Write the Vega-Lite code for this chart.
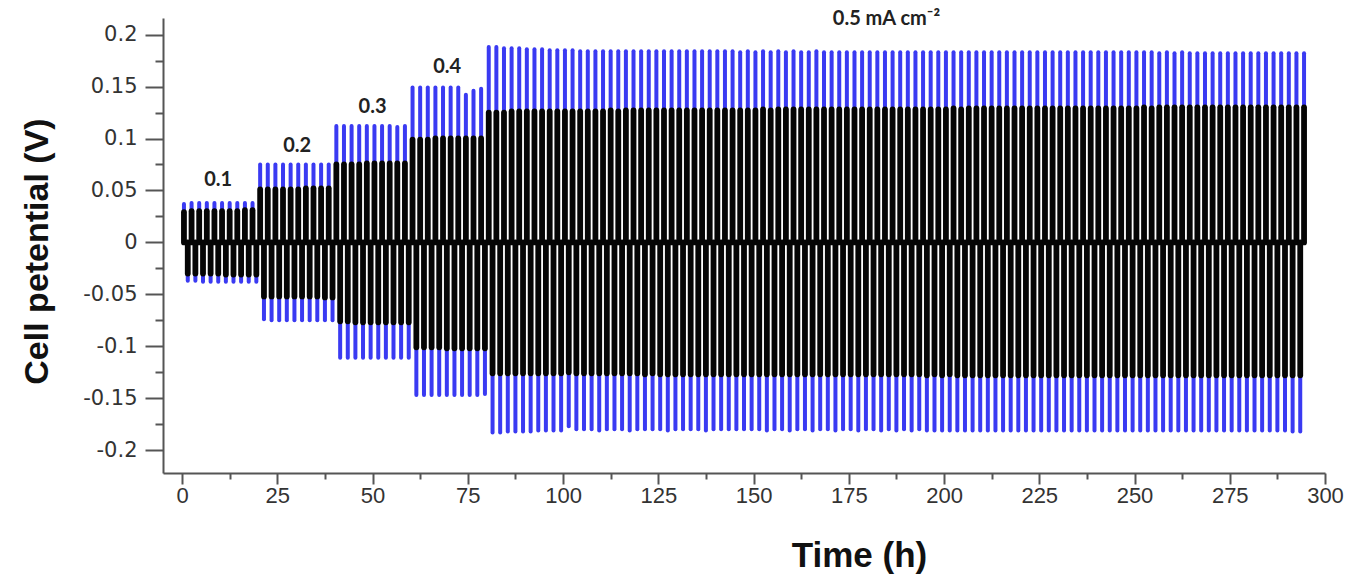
{
"$schema": "https://vega.github.io/schema/vega-lite/v6.json",
"width": 1162,
"height": 455,
"autosize": "none",
"padding": {"left": 163, "top": 18, "right": 47, "bottom": 108},
"background": "white",
"config": {"view": {"stroke": null}, "axis": {"grid": false}},
"datasets": {
"cycles": [
{"t":0.5,"b":0.037,"k":0.029},{"t":1.5,"b":-0.037,"k":-0.03},{"t":2.5,"b":0.038,"k":0.03},{"t":3.5,"b":-0.037,"k":-0.03},
{"t":4.5,"b":0.038,"k":0.03},{"t":5.5,"b":-0.038,"k":-0.03},{"t":6.5,"b":0.038,"k":0.03},{"t":7.5,"b":-0.038,"k":-0.03},
{"t":8.5,"b":0.038,"k":0.03},{"t":9.5,"b":-0.038,"k":-0.03},{"t":10.5,"b":0.038,"k":0.03},{"t":11.5,"b":-0.038,"k":-0.031},
{"t":12.5,"b":0.038,"k":0.03},{"t":13.5,"b":-0.038,"k":-0.031},{"t":14.5,"b":0.038,"k":0.03},{"t":15.5,"b":-0.038,"k":-0.031},
{"t":16.5,"b":0.038,"k":0.031},{"t":17.5,"b":-0.038,"k":-0.031},{"t":18.5,"b":0.038,"k":0.031},{"t":19.5,"b":-0.038,"k":-0.031},
{"t":20.5,"b":0.075,"k":0.051},{"t":21.5,"b":-0.074,"k":-0.052},{"t":22.5,"b":0.075,"k":0.051},{"t":23.5,"b":-0.075,"k":-0.052},
{"t":24.5,"b":0.075,"k":0.051},{"t":25.5,"b":-0.075,"k":-0.052},{"t":26.5,"b":0.075,"k":0.051},{"t":27.5,"b":-0.075,"k":-0.052},
{"t":28.5,"b":0.075,"k":0.051},{"t":29.5,"b":-0.075,"k":-0.052},{"t":30.5,"b":0.075,"k":0.051},{"t":31.5,"b":-0.075,"k":-0.052},
{"t":32.5,"b":0.075,"k":0.052},{"t":33.5,"b":-0.075,"k":-0.052},{"t":34.5,"b":0.075,"k":0.052},{"t":35.5,"b":-0.075,"k":-0.052},
{"t":36.5,"b":0.075,"k":0.052},{"t":37.5,"b":-0.075,"k":-0.053},{"t":38.5,"b":0.075,"k":0.052},{"t":39.5,"b":-0.075,"k":-0.053},
{"t":40.5,"b":0.112,"k":0.075},{"t":41.5,"b":-0.111,"k":-0.076},{"t":42.5,"b":0.112,"k":0.075},{"t":43.5,"b":-0.111,"k":-0.076},
{"t":44.5,"b":0.112,"k":0.075},{"t":45.5,"b":-0.111,"k":-0.077},{"t":46.5,"b":0.112,"k":0.075},{"t":47.5,"b":-0.111,"k":-0.077},
{"t":48.5,"b":0.112,"k":0.076},{"t":49.5,"b":-0.111,"k":-0.077},{"t":50.5,"b":0.112,"k":0.076},{"t":51.5,"b":-0.111,"k":-0.077},
{"t":52.5,"b":0.112,"k":0.076},{"t":53.5,"b":-0.111,"k":-0.077},{"t":54.5,"b":0.112,"k":0.076},{"t":55.5,"b":-0.111,"k":-0.077},
{"t":56.5,"b":0.111,"k":0.076},{"t":57.5,"b":-0.111,"k":-0.077},{"t":58.5,"b":0.112,"k":0.076},{"t":59.5,"b":-0.111,"k":-0.077},
{"t":60.5,"b":0.149,"k":0.099},{"t":61.5,"b":-0.147,"k":-0.101},{"t":62.5,"b":0.149,"k":0.099},{"t":63.5,"b":-0.147,"k":-0.101},
{"t":64.5,"b":0.149,"k":0.099},{"t":65.5,"b":-0.147,"k":-0.101},{"t":66.5,"b":0.149,"k":0.1},{"t":67.5,"b":-0.147,"k":-0.101},
{"t":68.5,"b":0.149,"k":0.1},{"t":69.5,"b":-0.147,"k":-0.102},{"t":70.5,"b":0.149,"k":0.1},{"t":71.5,"b":-0.147,"k":-0.102},
{"t":72.5,"b":0.149,"k":0.1},{"t":73.5,"b":-0.147,"k":-0.102},{"t":74.5,"b":0.142,"k":0.1},{"t":75.5,"b":-0.147,"k":-0.102},
{"t":76.5,"b":0.146,"k":0.1},{"t":77.5,"b":-0.147,"k":-0.102},{"t":78.5,"b":0.148,"k":0.1},{"t":79.5,"b":-0.146,"k":-0.102},
{"t":80.5,"b":0.188,"k":0.125},{"t":81.5,"b":-0.183,"k":-0.126},{"t":82.5,"b":0.188,"k":0.125},{"t":83.5,"b":-0.183,"k":-0.126},
{"t":84.5,"b":0.187,"k":0.125},{"t":85.5,"b":-0.182,"k":-0.126},{"t":86.5,"b":0.187,"k":0.126},{"t":87.5,"b":-0.182,"k":-0.126},
{"t":88.5,"b":0.187,"k":0.126},{"t":89.5,"b":-0.182,"k":-0.126},{"t":90.5,"b":0.186,"k":0.126},{"t":91.5,"b":-0.182,"k":-0.126},
{"t":92.5,"b":0.186,"k":0.126},{"t":93.5,"b":-0.181,"k":-0.126},{"t":94.5,"b":0.186,"k":0.126},{"t":95.5,"b":-0.181,"k":-0.126},
{"t":96.5,"b":0.185,"k":0.126},{"t":97.5,"b":-0.181,"k":-0.126},{"t":98.5,"b":0.185,"k":0.126},{"t":99.5,"b":-0.181,"k":-0.126},
{"t":100.5,"b":0.185,"k":0.126},{"t":101.5,"b":-0.177,"k":-0.125},{"t":102.5,"b":0.185,"k":0.126},{"t":103.5,"b":-0.18,"k":-0.126},
{"t":104.5,"b":0.184,"k":0.126},{"t":105.5,"b":-0.18,"k":-0.126},{"t":106.5,"b":0.184,"k":0.126},{"t":107.5,"b":-0.18,"k":-0.126},
{"t":108.5,"b":0.184,"k":0.126},{"t":109.5,"b":-0.181,"k":-0.126},{"t":110.5,"b":0.184,"k":0.126},{"t":111.5,"b":-0.18,"k":-0.126},
{"t":112.5,"b":0.184,"k":0.127},{"t":113.5,"b":-0.18,"k":-0.126},{"t":114.5,"b":0.184,"k":0.126},{"t":115.5,"b":-0.18,"k":-0.126},
{"t":116.5,"b":0.184,"k":0.127},{"t":117.5,"b":-0.181,"k":-0.126},{"t":118.5,"b":0.184,"k":0.127},{"t":119.5,"b":-0.18,"k":-0.126},
{"t":120.5,"b":0.184,"k":0.127},{"t":121.5,"b":-0.18,"k":-0.127},{"t":122.5,"b":0.184,"k":0.127},{"t":123.5,"b":-0.18,"k":-0.126},
{"t":124.5,"b":0.184,"k":0.127},{"t":125.5,"b":-0.18,"k":-0.127},{"t":126.5,"b":0.184,"k":0.127},{"t":127.5,"b":-0.181,"k":-0.127},
{"t":128.5,"b":0.184,"k":0.127},{"t":129.5,"b":-0.18,"k":-0.127},{"t":130.5,"b":0.184,"k":0.127},{"t":131.5,"b":-0.18,"k":-0.127},
{"t":132.5,"b":0.184,"k":0.127},{"t":133.5,"b":-0.18,"k":-0.127},{"t":134.5,"b":0.184,"k":0.127},{"t":135.5,"b":-0.18,"k":-0.127},
{"t":136.5,"b":0.184,"k":0.127},{"t":137.5,"b":-0.181,"k":-0.127},{"t":138.5,"b":0.184,"k":0.127},{"t":139.5,"b":-0.18,"k":-0.127},
{"t":140.5,"b":0.184,"k":0.127},{"t":141.5,"b":-0.18,"k":-0.127},{"t":142.5,"b":0.184,"k":0.127},{"t":143.5,"b":-0.18,"k":-0.127},
{"t":144.5,"b":0.184,"k":0.127},{"t":145.5,"b":-0.18,"k":-0.127},{"t":146.5,"b":0.183,"k":0.127},{"t":147.5,"b":-0.18,"k":-0.127},
{"t":148.5,"b":0.184,"k":0.127},{"t":149.5,"b":-0.18,"k":-0.127},{"t":150.5,"b":0.183,"k":0.127},{"t":151.5,"b":-0.18,"k":-0.127},
{"t":152.5,"b":0.184,"k":0.128},{"t":153.5,"b":-0.181,"k":-0.127},{"t":154.5,"b":0.183,"k":0.127},{"t":155.5,"b":-0.18,"k":-0.127},
{"t":156.5,"b":0.184,"k":0.128},{"t":157.5,"b":-0.18,"k":-0.127},{"t":158.5,"b":0.183,"k":0.128},{"t":159.5,"b":-0.181,"k":-0.127},
{"t":160.5,"b":0.184,"k":0.128},{"t":161.5,"b":-0.18,"k":-0.127},{"t":162.5,"b":0.183,"k":0.128},{"t":163.5,"b":-0.18,"k":-0.127},
{"t":164.5,"b":0.183,"k":0.128},{"t":165.5,"b":-0.181,"k":-0.127},{"t":166.5,"b":0.184,"k":0.128},{"t":167.5,"b":-0.18,"k":-0.127},
{"t":168.5,"b":0.183,"k":0.128},{"t":169.5,"b":-0.18,"k":-0.127},{"t":170.5,"b":0.183,"k":0.128},{"t":171.5,"b":-0.181,"k":-0.127},
{"t":172.5,"b":0.183,"k":0.128},{"t":173.5,"b":-0.18,"k":-0.127},{"t":174.5,"b":0.183,"k":0.128},{"t":175.5,"b":-0.18,"k":-0.127},
{"t":176.5,"b":0.183,"k":0.128},{"t":177.5,"b":-0.181,"k":-0.127},{"t":178.5,"b":0.183,"k":0.128},{"t":179.5,"b":-0.18,"k":-0.127},
{"t":180.5,"b":0.183,"k":0.128},{"t":181.5,"b":-0.18,"k":-0.127},{"t":182.5,"b":0.183,"k":0.128},{"t":183.5,"b":-0.181,"k":-0.127},
{"t":184.5,"b":0.183,"k":0.128},{"t":185.5,"b":-0.18,"k":-0.127},{"t":186.5,"b":0.183,"k":0.128},{"t":187.5,"b":-0.181,"k":-0.127},
{"t":188.5,"b":0.183,"k":0.128},{"t":189.5,"b":-0.18,"k":-0.127},{"t":190.5,"b":0.183,"k":0.128},{"t":191.5,"b":-0.181,"k":-0.127},
{"t":192.5,"b":0.183,"k":0.128},{"t":193.5,"b":-0.18,"k":-0.127},{"t":194.5,"b":0.183,"k":0.128},{"t":195.5,"b":-0.181,"k":-0.128},
{"t":196.5,"b":0.183,"k":0.128},{"t":197.5,"b":-0.181,"k":-0.127},{"t":198.5,"b":0.183,"k":0.128},{"t":199.5,"b":-0.181,"k":-0.128},
{"t":200.5,"b":0.183,"k":0.128},{"t":201.5,"b":-0.181,"k":-0.127},{"t":202.5,"b":0.183,"k":0.129},{"t":203.5,"b":-0.181,"k":-0.128},
{"t":204.5,"b":0.183,"k":0.128},{"t":205.5,"b":-0.181,"k":-0.128},{"t":206.5,"b":0.183,"k":0.129},{"t":207.5,"b":-0.181,"k":-0.128},
{"t":208.5,"b":0.183,"k":0.129},{"t":209.5,"b":-0.181,"k":-0.128},{"t":210.5,"b":0.183,"k":0.129},{"t":211.5,"b":-0.181,"k":-0.128},
{"t":212.5,"b":0.183,"k":0.129},{"t":213.5,"b":-0.181,"k":-0.128},{"t":214.5,"b":0.183,"k":0.129},{"t":215.5,"b":-0.181,"k":-0.128},
{"t":216.5,"b":0.183,"k":0.129},{"t":217.5,"b":-0.181,"k":-0.128},{"t":218.5,"b":0.183,"k":0.129},{"t":219.5,"b":-0.181,"k":-0.128},
{"t":220.5,"b":0.183,"k":0.129},{"t":221.5,"b":-0.181,"k":-0.128},{"t":222.5,"b":0.183,"k":0.129},{"t":223.5,"b":-0.181,"k":-0.128},
{"t":224.5,"b":0.183,"k":0.129},{"t":225.5,"b":-0.181,"k":-0.128},{"t":226.5,"b":0.183,"k":0.129},{"t":227.5,"b":-0.181,"k":-0.128},
{"t":228.5,"b":0.183,"k":0.129},{"t":229.5,"b":-0.181,"k":-0.128},{"t":230.5,"b":0.183,"k":0.129},{"t":231.5,"b":-0.181,"k":-0.128},
{"t":232.5,"b":0.183,"k":0.129},{"t":233.5,"b":-0.181,"k":-0.128},{"t":234.5,"b":0.183,"k":0.129},{"t":235.5,"b":-0.181,"k":-0.128},
{"t":236.5,"b":0.183,"k":0.129},{"t":237.5,"b":-0.181,"k":-0.128},{"t":238.5,"b":0.183,"k":0.129},{"t":239.5,"b":-0.181,"k":-0.128},
{"t":240.5,"b":0.183,"k":0.129},{"t":241.5,"b":-0.181,"k":-0.128},{"t":242.5,"b":0.183,"k":0.129},{"t":243.5,"b":-0.181,"k":-0.128},
{"t":244.5,"b":0.183,"k":0.129},{"t":245.5,"b":-0.181,"k":-0.128},{"t":246.5,"b":0.183,"k":0.129},{"t":247.5,"b":-0.181,"k":-0.128},
{"t":248.5,"b":0.183,"k":0.129},{"t":249.5,"b":-0.181,"k":-0.128},{"t":250.5,"b":0.183,"k":0.129},{"t":251.5,"b":-0.181,"k":-0.128},
{"t":252.5,"b":0.183,"k":0.13},{"t":253.5,"b":-0.181,"k":-0.128},{"t":254.5,"b":0.183,"k":0.129},{"t":255.5,"b":-0.181,"k":-0.128},
{"t":256.5,"b":0.182,"k":0.13},{"t":257.5,"b":-0.181,"k":-0.128},{"t":258.5,"b":0.183,"k":0.13},{"t":259.5,"b":-0.181,"k":-0.128},
{"t":260.5,"b":0.182,"k":0.13},{"t":261.5,"b":-0.181,"k":-0.128},{"t":262.5,"b":0.183,"k":0.13},{"t":263.5,"b":-0.181,"k":-0.128},
{"t":264.5,"b":0.182,"k":0.13},{"t":265.5,"b":-0.181,"k":-0.128},{"t":266.5,"b":0.182,"k":0.13},{"t":267.5,"b":-0.181,"k":-0.128},
{"t":268.5,"b":0.182,"k":0.13},{"t":269.5,"b":-0.181,"k":-0.128},{"t":270.5,"b":0.182,"k":0.13},{"t":271.5,"b":-0.181,"k":-0.128},
{"t":272.5,"b":0.182,"k":0.13},{"t":273.5,"b":-0.181,"k":-0.128},{"t":274.5,"b":0.182,"k":0.13},{"t":275.5,"b":-0.181,"k":-0.128},
{"t":276.5,"b":0.182,"k":0.13},{"t":277.5,"b":-0.181,"k":-0.128},{"t":278.5,"b":0.182,"k":0.13},{"t":279.5,"b":-0.181,"k":-0.128},
{"t":280.5,"b":0.182,"k":0.13},{"t":281.5,"b":-0.181,"k":-0.128},{"t":282.5,"b":0.182,"k":0.13},{"t":283.5,"b":-0.181,"k":-0.128},
{"t":284.5,"b":0.182,"k":0.13},{"t":285.5,"b":-0.181,"k":-0.128},{"t":286.5,"b":0.182,"k":0.13},{"t":287.5,"b":-0.181,"k":-0.128},
{"t":288.5,"b":0.182,"k":0.13},{"t":289.5,"b":-0.181,"k":-0.128},{"t":290.5,"b":0.182,"k":0.13},{"t":291.5,"b":-0.182,"k":-0.128},
{"t":292.5,"b":0.182,"k":0.13},{"t":293.5,"b":-0.182,"k":-0.128},{"t":294.5,"b":0.182,"k":0.13}
],
"notes": [
{"label":"0.1","t":9.5,"v":0.06},
{"label":"0.2","t":30.2,"v":0.093},
{"label":"0.3","t":50,"v":0.13},
{"label":"0.4","t":69.6,"v":0.169},
{"label":"0.5 mA cm⁻²","t":184.9,"v":0.215}
]
},
"layer": [
{
"data": {"name": "cycles"},
"mark": {"type": "rule", "color": "#3a3af2", "strokeWidth": 4, "strokeCap": "round"},
"encoding": {
"x": {"field": "t", "type": "quantitative", "scale": {"domain": [-5, 300], "nice": false, "zero": false},
"axis": {"orient": "bottom", "values": [0,25,50,75,100,125,150,175,200,225,250,275,300], "tickSize": 11, "tickWidth": 2, "tickColor": "#555", "domainColor": "#555", "domainWidth": 2, "labelFont": "Liberation Sans", "labelFontSize": 22, "labelColor": "#333", "labelPadding": 1, "labelFlush": false, "labelOverlap": false, "title": "Time (h)", "titleFont": "Liberation Sans", "titleFontSize": 35, "titleFontWeight": "bold", "titleColor": "#111", "titleX": 696, "titleY": 82, "titleAlign": "center", "titleBaseline": "middle", "grid": false}},
"y": {"field": "b", "type": "quantitative", "scale": {"domain": [-0.222, 0.216], "nice": false, "zero": false},
"axis": {"orient": "left", "values": [-0.2,-0.15,-0.1,-0.05,0,0.05,0.1,0.15,0.2], "tickSize": 18, "tickWidth": 2, "tickColor": "#555", "domainColor": "#555", "domainWidth": 2, "labelFont": "DejaVu Sans", "labelFontSize": 21, "labelColor": "#333", "labelPadding": 8, "labelFlush": false, "labelOverlap": false, "labelExpr": "datum.value < 0 ? '-' + format(-datum.value, '~r') : format(datum.value, '~r')", "title": "Cell petential (V)", "titleFont": "Liberation Sans", "titleFontSize": 34, "titleFontWeight": "bold", "titleColor": "#111", "titleX": -126, "titleY": 233, "titleAngle": -90, "titleAlign": "center", "titleBaseline": "middle", "grid": false}},
"y2": {"datum": 0}
}
},
{
"data": {"name": "cycles"},
"mark": {"type": "rule", "color": "#050505", "strokeWidth": 5.8, "strokeCap": "round"},
"encoding": {
"x": {"field": "t", "type": "quantitative", "scale": {"domain": [-5, 300], "nice": false, "zero": false},
"axis": {"orient": "bottom", "values": [12.5,37.5,62.5,87.5,112.5,137.5,162.5,187.5,212.5,237.5,262.5,287.5], "tickSize": 6, "tickWidth": 2, "tickColor": "#555", "domain": false, "labels": false, "title": null, "grid": false}},
"y": {"field": "k", "type": "quantitative", "scale": {"domain": [-0.222, 0.216], "nice": false, "zero": false},
"axis": {"orient": "left", "values": [-0.175,-0.125,-0.075,-0.025,0.025,0.075,0.125,0.175], "tickSize": 8, "tickWidth": 2, "tickColor": "#555", "domain": false, "labels": false, "title": null, "grid": false}},
"y2": {"datum": 0}
}
},
{
"data": {"name": "notes"},
"mark": {"type": "text", "font": "Lato", "fontWeight": "bold", "fontSize": 20, "color": "#222", "align": "center", "baseline": "middle"},
"encoding": {
"x": {"field": "t", "type": "quantitative", "scale": {"domain": [-5, 300], "nice": false, "zero": false}, "axis": null},
"y": {"field": "v", "type": "quantitative", "scale": {"domain": [-0.222, 0.216], "nice": false, "zero": false}, "axis": null},
"text": {"field": "label"}
}
}
],
"resolve": {"axis": {"x": "independent", "y": "independent"}}
}
